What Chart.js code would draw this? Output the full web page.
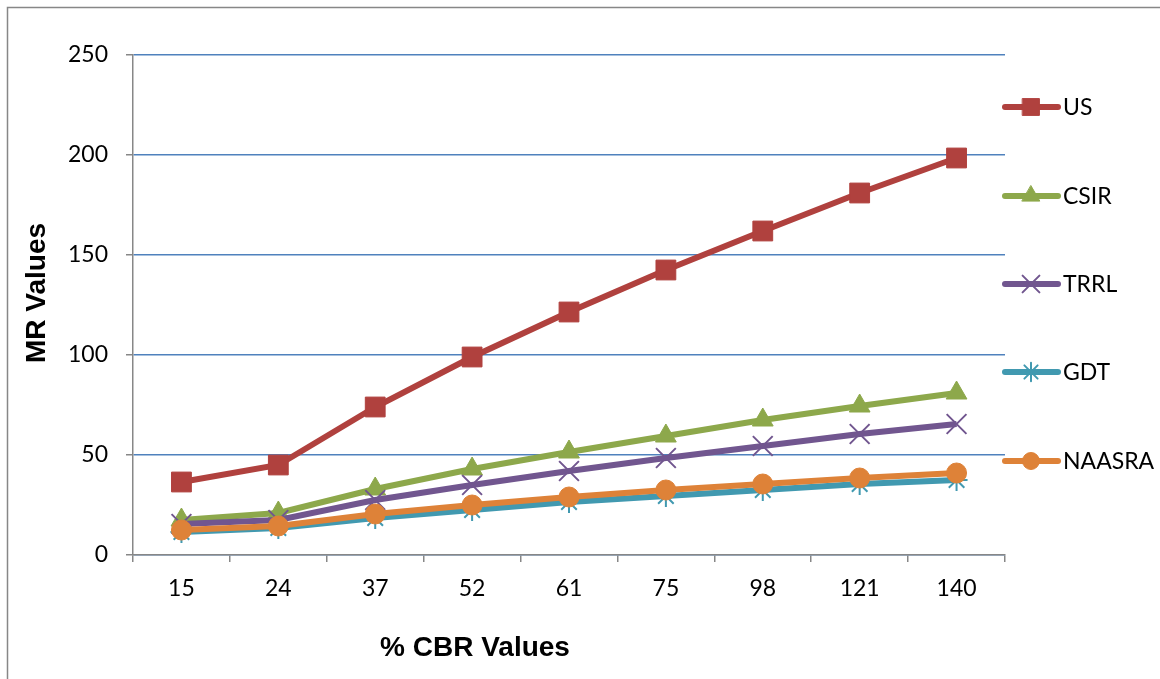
<!DOCTYPE html>
<html>
<head>
<meta charset="utf-8">
<title>MR vs % CBR</title>
<script src="https://cdn.jsdelivr.net/npm/chart.js@4.4.1/dist/chart.umd.min.js"></script>
<style>
  html, body { margin: 0; padding: 0; background: #ffffff; }
  #wrap { width: 1160px; height: 679px; position: relative; }
</style>
</head>
<body>
<div id="wrap"><canvas id="c" width="1160" height="679"></canvas></div>
<script>
// % CBR categories and MR values for each correlation method
const cbrLabels = ['15', '24', '37', '52', '61', '75', '98', '121', '140'];
const usValues     = [36.5, 45, 74, 99, 121.5, 142.5, 162, 181, 198.5];
const csirValues   = [17.5, 21, 33, 43, 51.5, 59.5, 67.5, 74.5, 81];
const trrlValues   = [15.5, 17.5, 27.5, 35, 42, 48.5, 54.5, 60.5, 65.5];
const gdtValues    = [11.5, 13.5, 18.5, 22.5, 26.5, 29.5, 32.5, 35.5, 37.5];
const naasraValues = [12.5, 14.5, 20.5, 25, 29, 32.5, 35.5, 38.5, 41];
const yTicks = [0, 50, 100, 150, 200, 250];

const FONT = 'Lato, "Liberation Sans", sans-serif';
const TITLE_FONT = '"Liberation Sans", Arial, sans-serif';
const AXIS_GREY = '#878787';

const series = [
  { label: 'US',     data: usValues,     color: '#b0413e', style: 'rect',     radius: 14, order: 5 },
  { label: 'CSIR',   data: csirValues,   color: '#8da84b', style: 'triangle', radius: 12, order: 4 },
  { label: 'TRRL',   data: trrlValues,   color: '#71568f', style: 'crossRot', radius: 14, order: 3 },
  { label: 'GDT',    data: gdtValues,    color: '#4199b0', style: 'star',     radius: 11, order: 2 },
  { label: 'NAASRA', data: naasraValues, color: '#de8238', style: 'circle',   radius: 10, order: 1 }
];

const datasets = series.map(s => ({
  label: s.label,
  data: s.data,
  borderColor: s.color,
  backgroundColor: s.color,
  borderWidth: 6,
  pointStyle: s.style,
  pointRadius: s.radius,
  pointHoverRadius: s.radius,
  pointBorderWidth: (s.style === 'crossRot' || s.style === 'star') ? 2 : 1,
  pointBackgroundColor: s.color,
  pointBorderColor: s.color,
  tension: 0,
  order: s.order
}));

// Outer frame, axis titles and the right-hand legend
const decorations = {
  id: 'decorations',
  beforeDraw(chart) {
    const ctx = chart.ctx;
    ctx.save();
    ctx.fillStyle = '#ffffff';
    ctx.fillRect(0, 0, chart.width, chart.height);
    ctx.strokeStyle = AXIS_GREY;
    ctx.lineWidth = 1.5;
    ctx.strokeRect(7.5, 7.5, chart.width + 10, chart.height + 10);
    ctx.restore();
  },
  afterDraw(chart) {
    const ctx = chart.ctx;
    ctx.save();
    ctx.fillStyle = '#000000';
    ctx.font = 'bold 28px ' + TITLE_FONT;
    ctx.textAlign = 'center';
    ctx.textBaseline = 'middle';
    ctx.fillText('% CBR Values', 475, 648);
    ctx.translate(37, 293);
    ctx.rotate(-Math.PI / 2);
    ctx.fillText('MR Values', 0, 0);
    ctx.restore();

    const legendY = [107, 196, 284, 372, 461];
    series.forEach((s, i) => {
      const y = legendY[i];
      ctx.save();
      ctx.strokeStyle = s.color;
      ctx.lineWidth = 6;
      ctx.lineCap = 'round';
      ctx.beginPath();
      ctx.moveTo(1005, y);
      ctx.lineTo(1058, y);
      ctx.stroke();
      ctx.fillStyle = s.color;
      ctx.strokeStyle = s.color;
      ctx.lineWidth = (s.style === 'crossRot' || s.style === 'star') ? 2 : 1;
      Chart.helpers.drawPoint(ctx, {
        pointStyle: s.style,
        radius: s.radius * 0.85,
        rotation: 0,
        borderWidth: ctx.lineWidth
      }, 1031, y);
      ctx.fillStyle = '#000000';
      ctx.font = '23px ' + FONT;
      ctx.textAlign = 'left';
      ctx.textBaseline = 'middle';
      ctx.fillText(s.label, 1063, y + 1);
      ctx.restore();
    });
  }
};

new Chart(document.getElementById('c'), {
  type: 'line',
  data: { labels: cbrLabels, datasets },
  plugins: [decorations],
  options: {
    responsive: false,
    animation: false,
    events: [],
    layout: { padding: { left: 0, top: 55, right: 155, bottom: 0 } },
    plugins: {
      legend: { display: false },
      tooltip: { enabled: false }
    },
    scales: {
      x: {
        type: 'category',
        offset: true,
        afterFit(scale) { scale.height = 124; },
        grid: {
          display: true,
          offset: true,
          drawOnChartArea: false,
          drawTicks: true,
          tickLength: 7,
          color: AXIS_GREY,
          lineWidth: 1.5
        },
        border: { color: AXIS_GREY, width: 1.5 },
        ticks: {
          color: '#000000',
          padding: 13,
          maxRotation: 0,
          font: { family: FONT, size: 23 }
        }
      },
      y: {
        min: 0,
        max: 250,
        afterFit(scale) { scale.width = 133; },
        afterBuildTicks(scale) { scale.ticks = yTicks.map(v => ({ value: v })); },
        grid: {
          color: '#4f81bd',
          lineWidth: 1.5,
          tickColor: AXIS_GREY,
          tickLength: 7,
          drawTicks: true
        },
        border: { color: AXIS_GREY, width: 1.5 },
        ticks: {
          color: '#000000',
          padding: 18,
          font: { family: FONT, size: 23 }
        }
      }
    }
  }
});
</script>
</body>
</html>
